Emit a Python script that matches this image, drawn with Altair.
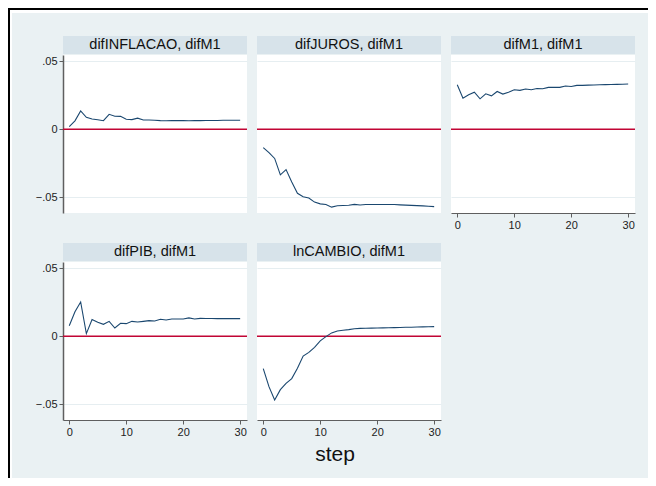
import altair as alt
import pandas as pd

steps = list(range(31))
titles = ["difINFLACAO, difM1", "difJUROS, difM1", "difM1, difM1",
          "difPIB, difM1", "lnCAMBIO, difM1"]
inflacao = [0.0020, 0.0062, 0.0135, 0.0088, 0.0076, 0.0070, 0.0063, 0.0110, 0.0096, 0.0095,
            0.0074, 0.0071, 0.0082, 0.0068, 0.0068, 0.0066, 0.0064, 0.0063, 0.0064, 0.0064,
            0.0064, 0.0063, 0.0064, 0.0064, 0.0065, 0.0065, 0.0065, 0.0066, 0.0066, 0.0067, 0.0067]
juros = [-0.0135, -0.0172, -0.0214, -0.0335, -0.0296, -0.0387, -0.0470, -0.0495, -0.0505, -0.0535,
         -0.0548, -0.0552, -0.0572, -0.0562, -0.0560, -0.0558, -0.0552, -0.0556, -0.0552, -0.0552,
         -0.0552, -0.0553, -0.0553, -0.0553, -0.0555, -0.0557, -0.0559, -0.0561, -0.0563, -0.0565, -0.0568]
m1 = [0.0328, 0.0229, 0.0254, 0.0273, 0.0224, 0.0261, 0.0246, 0.0278, 0.0259, 0.0273,
      0.0291, 0.0286, 0.0296, 0.0291, 0.0300, 0.0298, 0.0308, 0.0308, 0.0308, 0.0318,
      0.0315, 0.0323, 0.0323, 0.0325, 0.0326, 0.0327, 0.0328, 0.0329, 0.0330, 0.0331, 0.0333]
pib = [0.0078, 0.0181, 0.0252, 0.0020, 0.0123, 0.0103, 0.0088, 0.0110, 0.0061, 0.0096,
       0.0093, 0.0110, 0.0105, 0.0110, 0.0115, 0.0113, 0.0125, 0.0120, 0.0127, 0.0127,
       0.0127, 0.0135, 0.0127, 0.0132, 0.0131, 0.0131, 0.0130, 0.0130, 0.0131, 0.0130, 0.0130]
cambio = [-0.0238, -0.0370, -0.0468, -0.0392, -0.0346, -0.0311, -0.0235, -0.0145, -0.0118, -0.0081,
          -0.0034, -0.0002, 0.0025, 0.0039, 0.0044, 0.0049, 0.0056, 0.0058, 0.0059, 0.0060,
          0.0061, 0.0062, 0.0063, 0.0064, 0.0065, 0.0066, 0.0067, 0.0068, 0.0069, 0.0070, 0.0071]
series = [inflacao, juros, m1, pib, cambio]
x_ticks = [0, 10, 20, 30]
y_ticks = [-0.05, 0, 0.05]
x_title = "step"

W, H = 184, 158
FONT = "Liberation Sans"
BG = "#EAF1F3"
HDR = "#D7E3EA"
LINE = "#1A476F"
ZERO = "#C10534"
AX = "#5F5F5F"

xscale = alt.Scale(domain=[-1.1, 31.2], nice=False, zero=False)
yscale = alt.Scale(domain=[-0.0615, 0.0546], nice=False, zero=False)


def x_axis(show):
    if not show:
        return None
    return alt.Axis(values=x_ticks, title=None, grid=False, domainColor=AX, domainWidth=1.2,
                    tickColor=AX, tickSize=4, labelPadding=2, labelFontSize=11,
                    labelColor="#222", labelFont=FONT)


def y_axis(show):
    if show:
        return alt.Axis(values=y_ticks, title=None, grid=True, gridColor="#E6EEF1",
                        domainColor=AX, domainWidth=1.5, tickColor=AX, tickSize=4,
                        labelPadding=2, labelFontSize=11, labelColor="#222", labelFont=FONT,
                        labelExpr="datum.value == 0 ? '0' : replace(format(datum.value, '.2f'), '0.', '.')")
    return alt.Axis(values=y_ticks, title=None, grid=True, gridColor="#E6EEF1",
                    domain=False, ticks=False, labels=False)


def panel(idx, show_x, show_y):
    df = pd.DataFrame({"step": steps, "irf": series[idx]})
    yenc = alt.Y("irf:Q", scale=yscale, axis=y_axis(show_y))
    layers = []
    if idx == 0:
        one = pd.DataFrame({"k": [0]})
        # frame strips of the graph region (top and left)
        for (x0, x1, y0, y1, c) in [(-55, 585, -47, -45, "black"), (-55, -53, -47, 423, "black"),
                                    (-53, 585, -45, -42, "white"), (-53, -51, -45, 423, "white")]:
            layers.append(alt.Chart(one).mark_rect(color=c).encode(
                x=alt.value(x0), x2=alt.value(x1), y=alt.value(y0), y2=alt.value(y1)))
    tdf = pd.DataFrame({"t": [titles[idx]]})
    layers.append(alt.Chart(tdf).mark_rect(color=HDR).encode(
        x=alt.value(0), x2=alt.value(W), y=alt.value(-19), y2=alt.value(-1)))
    layers.append(alt.Chart(tdf).mark_text(font=FONT, fontSize=14.5, color="#111",
                                           baseline="middle", align="center").encode(
        text="t:N", x=alt.value(W / 2), y=alt.value(-10)))
    layers.append(alt.Chart(pd.DataFrame({"irf": [0.0]})).mark_rule(
        color=ZERO, strokeWidth=1.5).encode(y=yenc))
    layers.append(alt.Chart(df).mark_line(color=LINE, strokeWidth=1.1).encode(
        x=alt.X("step:Q", scale=xscale, axis=x_axis(show_x)), y=yenc))
    if idx == 4:
        layers.append(alt.Chart(pd.DataFrame({"t": [x_title]})).mark_text(
            font=FONT, fontSize=21, color="#111", baseline="middle", align="center").encode(
            text="t:N", x=alt.value(78), y=alt.value(193)))
    return alt.layer(*layers).properties(width=W, height=H)


panels = [panel(0, False, True), panel(1, False, False), panel(2, True, False),
          panel(3, True, True), panel(4, True, False)]

chart = alt.concat(*panels, columns=3, spacing=alt.RowColnumber(row=49, column=10),
                   bounds="flush", padding=0).configure(
    background=BG).configure_view(fill="white", stroke=None)

chart.save("out.html", embed_options={"renderer": "svg", "actions": False})
